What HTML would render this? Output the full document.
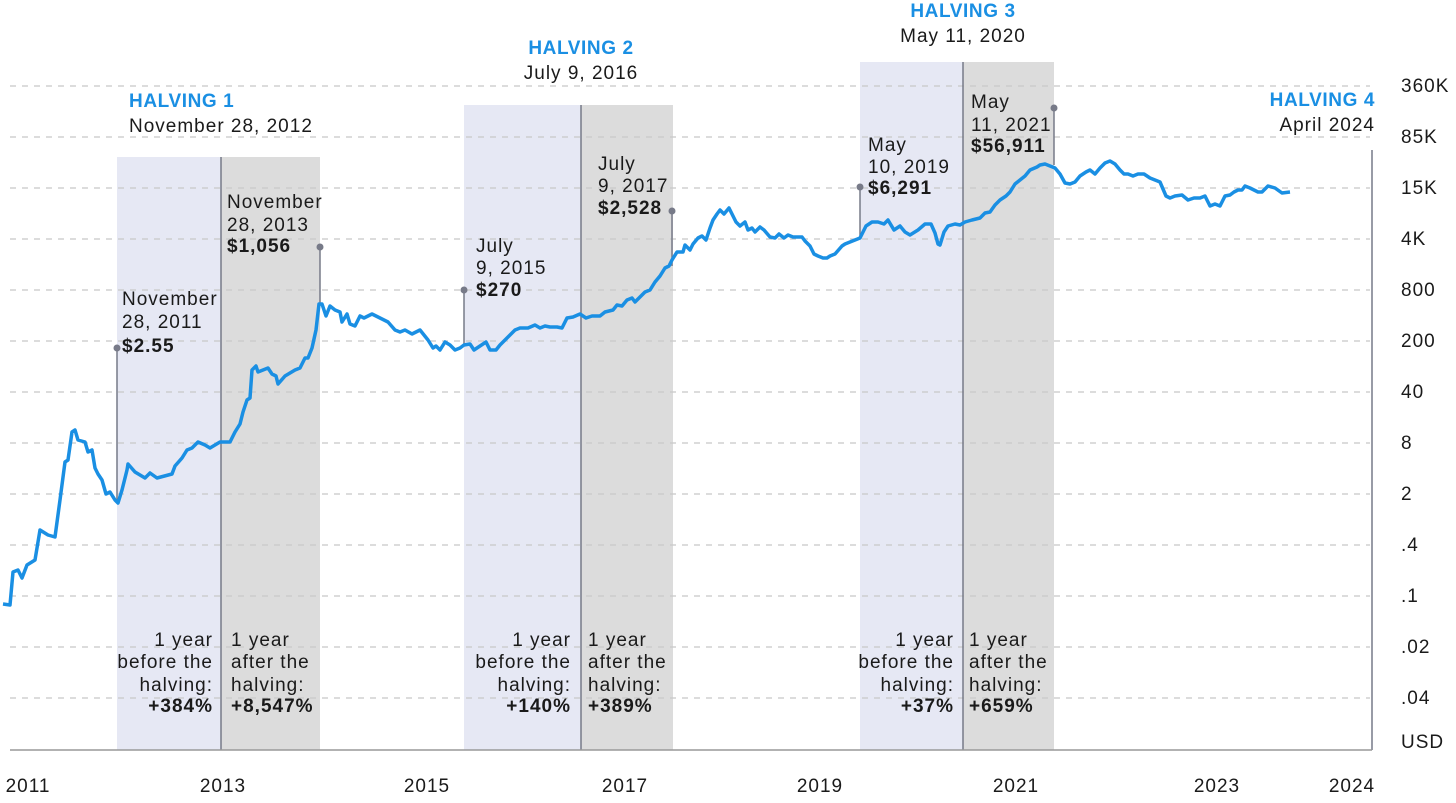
<!DOCTYPE html><html><head><style>
body{margin:0;background:#fff}
svg text{font-family:"Liberation Sans",sans-serif;font-size:19px;letter-spacing:1px;fill:#1a1a1a}
.b{font-weight:bold}
.h{fill:#1a8fe3;font-weight:bold;font-size:19px;letter-spacing:0.6px}
</style></head><body>
<svg width="1456" height="798" viewBox="0 0 1456 798">
<rect x="117" y="157" width="104" height="593" fill="#e6e8f4"/>
<rect x="221" y="157" width="99" height="593" fill="#dcdcdc"/>
<rect x="464" y="105" width="117" height="645" fill="#e6e8f4"/>
<rect x="581" y="105" width="92" height="645" fill="#dcdcdc"/>
<rect x="860" y="62" width="103" height="688" fill="#e6e8f4"/>
<rect x="963" y="62" width="91" height="688" fill="#dcdcdc"/>
<g stroke="#c8c8c8" stroke-width="1.2" stroke-dasharray="6,6">
<line x1="10" y1="86" x2="1370" y2="86"/><line x1="10" y1="137" x2="1370" y2="137"/><line x1="10" y1="188" x2="1370" y2="188"/><line x1="10" y1="239" x2="1370" y2="239"/><line x1="10" y1="290" x2="1370" y2="290"/><line x1="10" y1="341" x2="1370" y2="341"/><line x1="10" y1="392" x2="1370" y2="392"/><line x1="10" y1="443" x2="1370" y2="443"/><line x1="10" y1="494" x2="1370" y2="494"/><line x1="10" y1="545" x2="1370" y2="545"/><line x1="10" y1="596" x2="1370" y2="596"/><line x1="10" y1="647" x2="1370" y2="647"/><line x1="10" y1="698" x2="1370" y2="698"/>
</g>
<g stroke="#777a88" stroke-width="1.5">
<line x1="221" y1="157" x2="221" y2="750"/><line x1="581" y1="105" x2="581" y2="750"/><line x1="963" y1="62" x2="963" y2="750"/>
<line x1="1372" y1="150" x2="1372" y2="750"/>
<line x1="10" y1="750" x2="1372" y2="750" stroke="#999"/>
<line x1="117" y1="348" x2="117" y2="503"/><line x1="320" y1="247" x2="320" y2="304"/><line x1="464" y1="290" x2="464" y2="345"/><line x1="672" y1="211" x2="672" y2="266"/><line x1="860" y1="187" x2="860" y2="238"/><line x1="1054" y1="108" x2="1054" y2="165"/>
</g>
<g fill="#777a88"><circle cx="117" cy="348" r="3.5"/><circle cx="320" cy="247" r="3.5"/><circle cx="464" cy="290" r="3.5"/><circle cx="672" cy="211" r="3.5"/><circle cx="860" cy="187" r="3.5"/><circle cx="1054" cy="108" r="3.5"/></g>
<polyline fill="none" stroke="#1a8fe3" stroke-width="3.5" stroke-linejoin="round" points="3,604 10,605 13,572 18,570 22,578 27,565 35,560 40,530 48,535 55,537 60,500 65,462 68,460 72,432 75,430 78,440 85,442 88,452 92,450 95,468 98,474 102,480 106,494 110,492 115,500 118,503 122,490 127,470 128,464 135,472 145,478 150,473 157,478 172,474 175,466 182,458 187,450 192,448 198,442 205,445 210,448 220,442 230,442 235,432 240,424 243,412 247,400 250,398 252,370 256,366 258,372 263,370 268,368 272,374 276,376 278,384 285,376 295,370 300,368 305,358 308,358 312,348 316,330 319,304 322,304 326,316 330,306 335,310 340,312 342,322 347,314 350,324 355,326 360,316 364,318 372,314 380,318 388,322 395,330 400,332 405,330 412,334 420,330 428,340 433,348 436,346 440,350 445,342 450,345 455,350 460,348 464,345 470,344 474,350 480,346 486,342 490,350 496,350 500,345 505,340 510,335 515,330 520,328 528,328 535,325 540,328 545,326 550,327 557,327 562,328 567,318 573,317 580,314 586,318 592,316 600,316 605,312 613,310 617,305 622,306 627,300 632,298 635,302 640,297 645,292 650,290 655,282 660,276 665,268 669,266 672,260 677,252 683,252 685,245 690,250 693,244 698,238 702,236 706,240 710,228 713,220 717,214 720,210 724,214 729,208 733,216 736,222 740,226 745,222 748,230 752,228 755,232 760,227 764,230 770,237 775,238 779,234 784,238 788,235 793,237 799,237 802,237 805,241 810,246 814,254 818,256 823,258 827,258 830,256 835,254 842,246 845,244 850,242 855,240 860,238 866,226 872,222 878,222 884,224 888,220 894,230 900,226 905,232 910,235 918,230 925,224 931,224 935,233 938,244 940,245 944,232 948,226 955,224 960,225 965,222 972,220 980,218 985,213 990,212 995,205 1000,200 1006,196 1010,192 1015,184 1020,180 1025,176 1030,170 1037,167 1040,165 1045,164 1050,166 1055,168 1060,174 1065,183 1070,184 1075,182 1080,176 1086,172 1090,170 1095,174 1100,168 1105,163 1110,161 1115,164 1120,170 1124,174 1128,174 1133,176 1138,174 1144,174 1150,178 1155,180 1160,182 1166,196 1170,198 1175,196 1182,195 1188,200 1194,198 1200,198 1205,196 1210,206 1215,204 1220,206 1225,196 1230,195 1234,192 1238,190 1242,190 1245,186 1250,188 1258,192 1262,192 1268,186 1275,188 1282,193 1290,192"/>
<text class="h" x="129" y="107">HALVING 1</text><text x="129" y="132">November 28, 2012</text>
<text class="h" x="581" y="54" text-anchor="middle">HALVING 2</text><text x="581" y="79" text-anchor="middle">July 9, 2016</text>
<text class="h" x="963" y="17" text-anchor="middle">HALVING 3</text><text x="963" y="42" text-anchor="middle">May 11, 2020</text>
<text class="h" x="1375" y="106" text-anchor="end">HALVING 4</text><text x="1375" y="131" text-anchor="end">April 2024</text>
<text x="122" y="305">November</text><text x="122" y="328">28, 2011</text><text class="b" x="122" y="352">$2.55</text>
<text x="227" y="208">November</text><text x="227" y="231">28, 2013</text><text class="b" x="227" y="252">$1,056</text>
<text x="476" y="252">July</text><text x="476" y="274">9, 2015</text><text class="b" x="476" y="296">$270</text>
<text x="598" y="170">July</text><text x="598" y="192">9, 2017</text><text class="b" x="598" y="214">$2,528</text>
<text x="868" y="151">May</text><text x="868" y="173">10, 2019</text><text class="b" x="868" y="194">$6,291</text>
<text x="971" y="108">May</text><text x="971" y="131">11, 2021</text><text class="b" x="971" y="152">$56,911</text>
<g text-anchor="end"><text x="213" y="646">1 year</text><text x="213" y="668">before the</text><text x="213" y="691">halving:</text><text class="b" x="213" y="712">+384%</text>
<text x="571" y="646">1 year</text><text x="571" y="668">before the</text><text x="571" y="691">halving:</text><text class="b" x="571" y="712">+140%</text>
<text x="954" y="646">1 year</text><text x="954" y="668">before the</text><text x="954" y="691">halving:</text><text class="b" x="954" y="712">+37%</text></g>
<text x="231" y="646">1 year</text><text x="231" y="668">after the</text><text x="231" y="691">halving:</text><text class="b" x="231" y="712">+8,547%</text>
<text x="588" y="646">1 year</text><text x="588" y="668">after the</text><text x="588" y="691">halving:</text><text class="b" x="588" y="712">+389%</text>
<text x="969" y="646">1 year</text><text x="969" y="668">after the</text><text x="969" y="691">halving:</text><text class="b" x="969" y="712">+659%</text>
<g><text x="1401" y="92">360K</text><text x="1401" y="143">85K</text><text x="1401" y="194">15K</text><text x="1401" y="245">4K</text><text x="1401" y="296">800</text><text x="1401" y="347">200</text><text x="1401" y="398">40</text><text x="1401" y="449">8</text><text x="1401" y="500">2</text><text x="1401" y="551">.4</text><text x="1401" y="602">.1</text><text x="1401" y="653">.02</text><text x="1401" y="704">.04</text><text x="1401" y="748">USD</text></g>
<g text-anchor="middle"><text x="28" y="792">2011</text><text x="223" y="792">2013</text><text x="427" y="792">2015</text><text x="625" y="792">2017</text><text x="820" y="792">2019</text><text x="1016" y="792">2021</text><text x="1217" y="792">2023</text><text x="1352" y="792">2024</text></g>
</svg></body></html>
